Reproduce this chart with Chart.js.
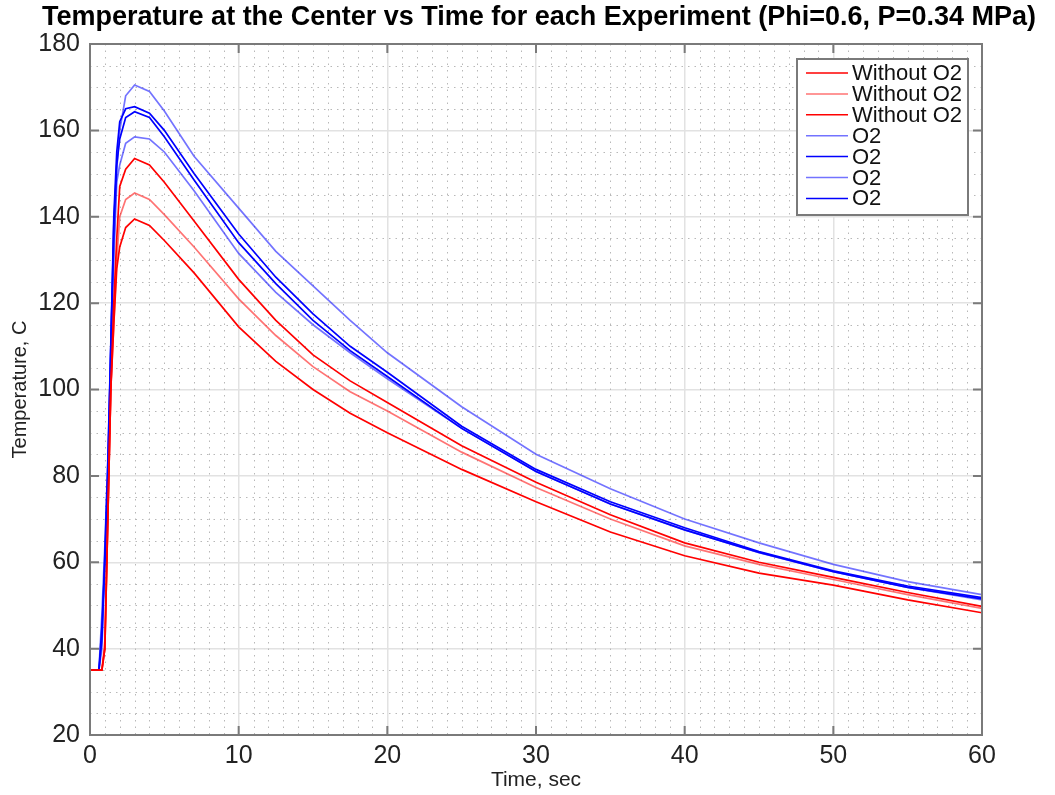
<!DOCTYPE html>
<html>
<head>
<meta charset="utf-8">
<script src="https://cdn.jsdelivr.net/npm/chart.js@4.4.1/dist/chart.umd.min.js"></script>
<style>
  html, body { margin: 0; padding: 0; background: #fff; }
  canvas { display: block; }
</style>
</head>
<body>
<canvas id="tempChart" width="1055" height="795"></canvas>
<script>
// time in seconds, shared by all runs
const times = [0, 0.6, 0.8, 1.0, 1.2, 1.4, 1.6, 1.8, 2.0, 2.4, 3, 4, 5, 7, 10, 12.5, 15, 17.5, 20, 25, 30, 35, 40, 45, 50, 55, 60];

// runs without O2 (red)
const noO2Run1 = [35, 35, 35, 40, 70, 100, 120, 135, 147, 151, 153.5, 152, 148, 139, 125.5, 116, 108, 102, 97, 87, 78.5, 71, 64.5, 60, 56.5, 53, 49.8];
const noO2Run2 = [35, 35, 35, 42, 70, 100, 115, 130, 140, 144, 145.5, 144, 140.5, 133, 121, 112.5, 105.3, 99.5, 95, 85.5, 77.3, 70, 63.8, 59.5, 56, 52.5, 49.3];
const noO2Run3 = [35, 35, 35, 40, 70, 100, 115, 128, 133, 137.5, 139.5, 138, 134.5, 127, 114.5, 106.5, 100, 94.5, 90, 81.5, 74, 67, 61.5, 57.5, 54.7, 51.3, 48.3];

// runs with O2 (blue)
const o2Run1 = [35, 35, 48, 64, 84, 111, 133, 151, 160, 168, 170.5, 169, 164.5, 154, 142, 132, 124, 116, 108.5, 96, 85, 77, 70, 64.5, 59.5, 55.5, 52.5];
const o2Run2 = [35, 35, 45, 60, 80, 110, 140, 155, 162, 165, 165.5, 164, 160, 150, 136, 126, 117.5, 110, 104, 91.5, 81.5, 74, 68, 62.5, 58, 54.5, 51.8];
const o2Run3 = [35, 35, 40, 58, 77, 105, 130, 148, 152, 157, 158.5, 158, 155, 146, 131.5, 122.5, 115, 108.5, 102.5, 91, 81, 73.5, 67.5, 62.2, 57.8, 54.2, 51.3];
const o2Run4 = [35, 35, 42, 62, 83, 110, 138, 152, 158, 163, 164.3, 163, 158.5, 148.5, 134, 124.5, 116, 109, 103, 91, 81, 73.5, 67.5, 62.3, 57.8, 54.2, 51.5];

const runLabels = ['Without O2', 'Without O2', 'Without O2', 'O2', 'O2', 'O2', 'O2'];
const runColors = ['#ff0000', 'rgba(255,0,0,0.55)', '#ff0000', 'rgba(0,0,255,0.55)', '#0000ff', 'rgba(0,0,255,0.55)', '#0000ff'];
const runs = [noO2Run1, noO2Run2, noO2Run3, o2Run1, o2Run2, o2Run3, o2Run4];

const chartTitle = 'Temperature at the Center vs Time for each Experiment (Phi=0.6, P=0.34 MPa)';
const fontFamily = '"Liberation Sans", Arial, Helvetica, sans-serif';

const frame = {
  id: 'frame',
  beforeDatasetsDraw(chart) {
    const { ctx, chartArea: a, scales: { x, y } } = chart;
    ctx.save();
    ctx.strokeStyle = '#b8b8b8';
    ctx.lineWidth = 1;
    ctx.setLineDash([1.5, 5]);
    for (let t = 1; t < 60; t++) {
      if (t % 10 === 0) continue;
      const px = Math.round(x.getPixelForValue(t)) + 0.5;
      ctx.beginPath(); ctx.moveTo(px, a.top); ctx.lineTo(px, a.bottom); ctx.stroke();
    }
    for (let v = 25; v < 180; v += 5) {
      if (v % 20 === 0) continue;
      const py = Math.round(y.getPixelForValue(v)) + 0.5;
      ctx.beginPath(); ctx.moveTo(a.left, py); ctx.lineTo(a.right, py); ctx.stroke();
    }
    ctx.restore();
  },
  afterDatasetsDraw(chart) {
    const { ctx, chartArea: a, scales: { x, y } } = chart;
    ctx.save();
    // box and inner ticks
    ctx.strokeStyle = '#7a7a7a';
    ctx.lineWidth = 2;
    ctx.strokeRect(a.left, a.top, a.right - a.left, a.bottom - a.top);
    const tick = 9;
    ctx.beginPath();
    for (let t = 0; t <= 60; t += 10) {
      const px = x.getPixelForValue(t);
      ctx.moveTo(px, a.bottom); ctx.lineTo(px, a.bottom - tick);
      ctx.moveTo(px, a.top); ctx.lineTo(px, a.top + tick);
    }
    for (let v = 20; v <= 180; v += 20) {
      const py = y.getPixelForValue(v);
      ctx.moveTo(a.left, py); ctx.lineTo(a.left + tick, py);
      ctx.moveTo(a.right, py); ctx.lineTo(a.right - tick, py);
    }
    ctx.stroke();

    // legend
    const lx = 797, ly = 59, lw = 171, lh = 156;
    ctx.fillStyle = '#fff';
    ctx.fillRect(lx, ly, lw, lh);
    ctx.strokeRect(lx, ly, lw, lh);
    ctx.font = '22px ' + fontFamily;
    ctx.textBaseline = 'middle';
    chart.data.datasets.forEach((ds, i) => {
      const ry = ly + 14 + i * 20.9;
      ctx.strokeStyle = ds.borderColor;
      ctx.lineWidth = 1.5;
      ctx.beginPath(); ctx.moveTo(lx + 9, ry); ctx.lineTo(lx + 51, ry); ctx.stroke();
      ctx.fillStyle = '#111';
      ctx.fillText(ds.label, lx + 55, ry + 1);
    });

    // title
    ctx.font = 'bold 27px ' + fontFamily;
    ctx.textAlign = 'center';
    ctx.fillStyle = '#000';
    ctx.fillText(chartTitle, 539, 18);
    ctx.restore();
  }
};

new Chart(document.getElementById('tempChart'), {
  type: 'line',
  data: {
    datasets: runs.map((run, i) => ({
      label: runLabels[i],
      data: times.map((t, k) => ({ x: t, y: run[k] })),
      borderColor: runColors[i],
      borderWidth: 1.7,
      pointRadius: 0,
      tension: 0,
      fill: false
    }))
  },
  options: {
    responsive: false,
    animation: false,
    devicePixelRatio: 1,
    layout: { padding: { top: 44, right: 73, left: 0, bottom: 0 } },
    scales: {
      x: {
        type: 'linear', min: 0, max: 60,
        afterFit: s => { s.height = 60; },
        ticks: { stepSize: 10, padding: 6, color: '#222', font: { size: 25, family: fontFamily } },
        grid: { color: '#e2e2e2', lineWidth: 1.5, drawTicks: false },
        border: { display: false },
        title: { display: true, text: 'Time, sec', color: '#222', font: { size: 21, family: fontFamily }, padding: { top: 0, bottom: 2 } }
      },
      y: {
        min: 20, max: 180,
        afterFit: s => { s.width = 90; },
        ticks: { stepSize: 20, padding: 10, color: '#222', font: { size: 25, family: fontFamily } },
        grid: { color: '#e2e2e2', lineWidth: 1.5, drawTicks: false },
        border: { display: false },
        title: { display: true, text: 'Temperature, C', color: '#222', font: { size: 20, family: fontFamily }, padding: { top: 8, bottom: 0 } }
      }
    },
    plugins: {
      legend: { display: false },
      title: { display: false },
      tooltip: { enabled: false }
    }
  },
  plugins: [frame]
});
</script>
</body>
</html>
